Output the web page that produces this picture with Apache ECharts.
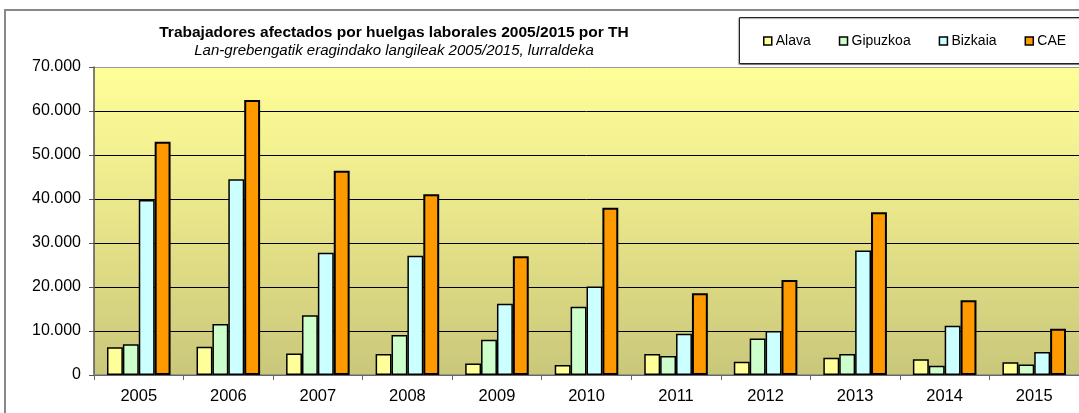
<!DOCTYPE html>
<html>
<head>
<meta charset="utf-8">
<title>Trabajadores afectados por huelgas laborales</title>
<script src="https://cdn.jsdelivr.net/npm/echarts@6/dist/echarts.min.js"></script>
<style>
    html, body {margin: 0; padding: 0; background: #fff; overflow: hidden;}
    #huelgas {width: 1079px; height: 413px;}
</style>
</head>
<body>
<div id="huelgas"></div>
<script>
var years = ['2005','2006','2007','2008','2009','2010','2011','2012','2013','2014','2015'];
var alava = [6300, 6400, 4900, 4800, 2600, 2300, 4800, 3000, 3900, 3600, 2900];
var gipuzkoa = [7000, 11600, 13600, 9100, 8000, 15500, 4300, 8300, 4800, 2100, 2400];
var bizkaia = [39800, 44500, 27800, 27100, 16200, 20100, 9400, 10000, 28300, 11200, 5200];
var cae = [53000, 62500, 46400, 41100, 27000, 38000, 18600, 21600, 37000, 17000, 10500];

var chart = echarts.init(document.getElementById('huelgas'));

function barSerie(name, data, color, bw) {
    return {
        name: name,
        type: 'bar',
        data: data,
        barGap: '0%',
        barCategoryGap: '29%',
        itemStyle: {color: color, borderColor: '#000', borderWidth: bw}
    };
}

var option = {
    animation: false,
    textStyle: {fontFamily: 'Liberation Sans, Arial, sans-serif'},
    graphic: [
        // outer frame: only left and top edges are inside the picture
        {
            type: 'polyline', z: -10,
            shape: {points: [[5, 420], [5, 10], [1090, 10]]},
            style: {fill: null, stroke: '#888', lineWidth: 2}
        },
        {
            type: 'polyline', z: 1,
            shape: {points: [[1090, 63.5], [739.5, 63.5], [739.5, 17.5], [1090, 17.5]]},
            style: {fill: '#fff', stroke: '#222', lineWidth: 1,
                shadowColor: 'rgba(0,0,0,0.35)', shadowOffsetX: -1, shadowOffsetY: 1, shadowBlur: 1}
        }
    ],
    title: {
        text: 'Trabajadores afectados por huelgas laborales 2005/2015 por TH',
        subtext: 'Lan-grebengatik eragindako langileak 2005/2015, lurraldeka',
        left: 394,
        textAlign: 'center',
        top: 25,
        itemGap: 2,
        padding: 0,
        textStyle: {fontSize: 15.5, fontWeight: 'bold', color: '#000'},
        subtextStyle: {fontSize: 15, fontStyle: 'italic', color: '#000'}
    },
    legend: {
        left: 763,
        top: 34,
        padding: 0,
        itemWidth: 8,
        itemHeight: 8,
        itemGap: 28,
        icon: 'rect',
        itemStyle: {borderColor: '#000', borderWidth: 1.5},
        textStyle: {fontSize: 14, color: '#000', padding: [0, 0, 0, -1]},
        data: ['Alava', 'Gipuzkoa', 'Bizkaia', 'CAE']
    },
    grid: {
        left: 94,
        top: 67,
        right: -5,
        bottom: 38,
        show: true,
        borderWidth: 0,
        backgroundColor: new echarts.graphic.LinearGradient(0, 0, 0, 1, [
            {offset: 0, color: '#FFFF99'},
            {offset: 0.5, color: '#E8E48A'},
            {offset: 1, color: '#C9C77A'}
        ])
    },
    xAxis: {
        type: 'category',
        data: years,
        axisLine: {lineStyle: {color: '#888', width: 1.5}},
        axisTick: {show: true, length: 5, lineStyle: {color: '#666'}},
        axisLabel: {fontSize: 16.5, color: '#000', margin: 13}
    },
    yAxis: {
        type: 'value',
        min: 0,
        max: 70000,
        interval: 10000,
        axisLine: {show: true, lineStyle: {color: '#555', width: 1.5}},
        axisTick: {show: true, length: 5, lineStyle: {color: '#555'}},
        axisLabel: {
            fontSize: 16, color: '#000', margin: 13,
            formatter: function (v) {
                return v === 0 ? '0' : String(v).replace(/\B(?=(\d{3})+(?!\d))/g, '.');
            }
        },
        splitLine: {lineStyle: {color: ['#000','#000','#000','#000','#000','#000','#000','#999'], width: 1}}
    },
    series: [
        barSerie('Alava', alava, '#FFFF99', 1.5),
        barSerie('Gipuzkoa', gipuzkoa, '#CCFFCC', 1.5),
        barSerie('Bizkaia', bizkaia, '#CCFFFF', 1.5),
        barSerie('CAE', cae, '#FF9900', 2)
    ]
};
chart.setOption(option);
</script>
</body>
</html>
